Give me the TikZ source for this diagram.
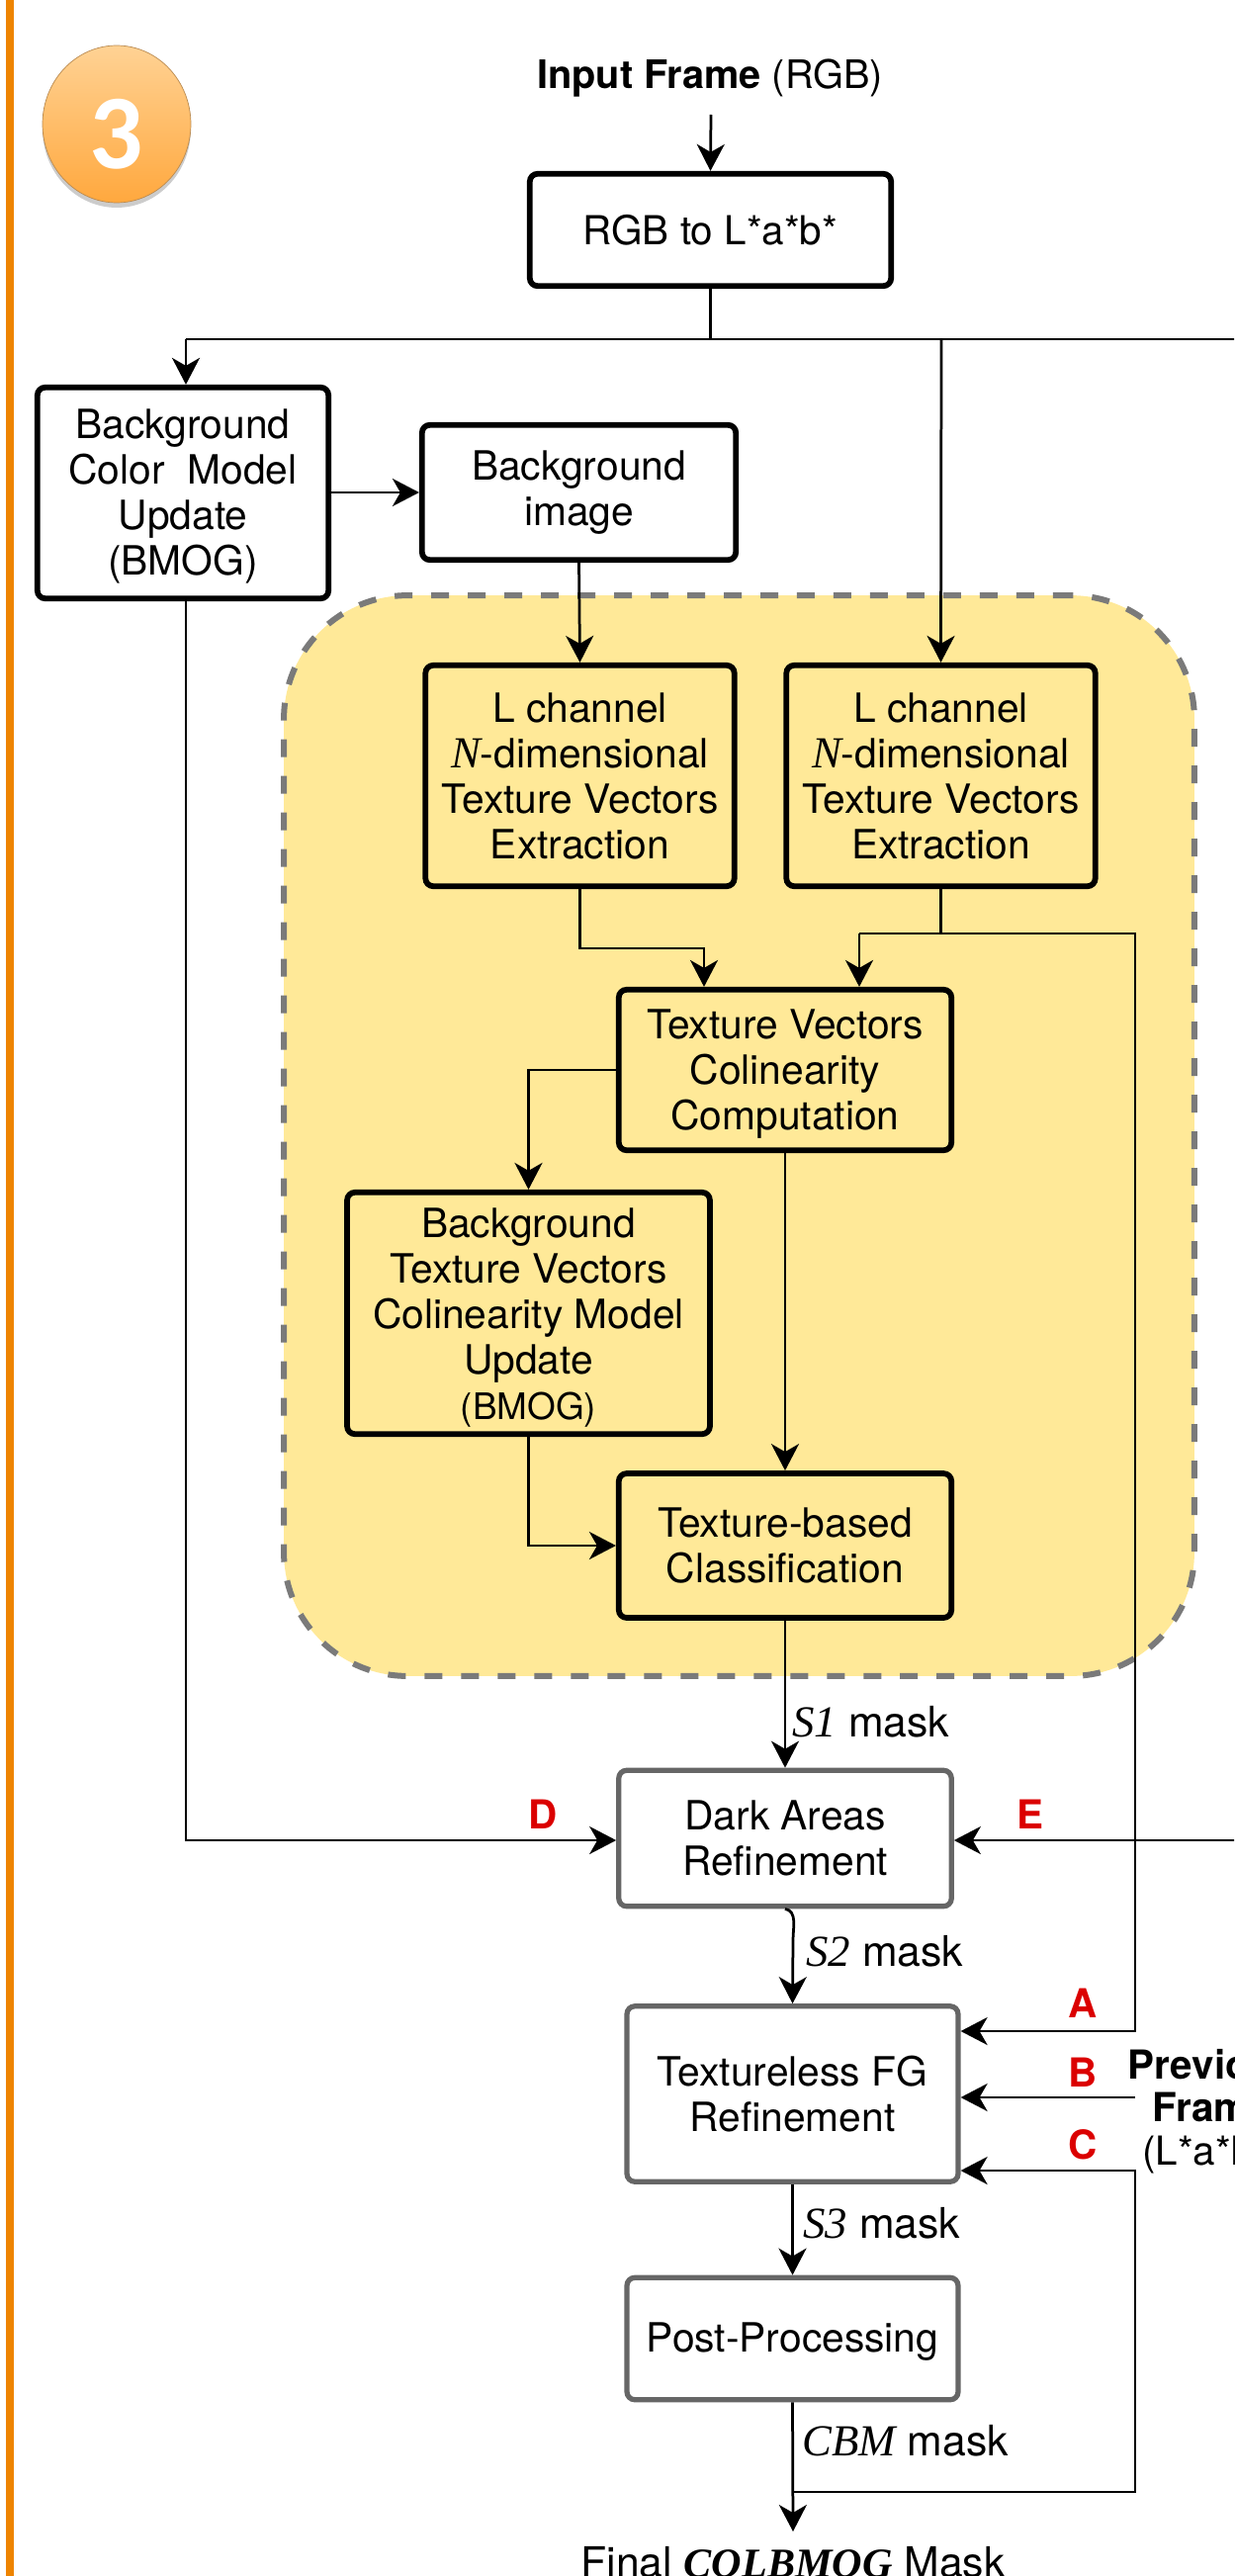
\documentclass[tikz,border=0pt]{standalone}
\usepackage{fontspec}
\setmainfont{TeX Gyre Heros}
\newfontfamily\timesfont{Liberation Serif}
\newfontfamily\badgefont{Carlito}
\usetikzlibrary{arrows.meta,shapes.geometric,shadows}
\definecolor{panelyellow}{HTML}{FFE998}
\definecolor{paneldash}{HTML}{7A7A7A}
\definecolor{boxgray}{HTML}{666666}
\definecolor{markred}{HTML}{DB0000}
\definecolor{barorange}{HTML}{EE8400}
\definecolor{badgetop}{HTML}{FFD294}
\definecolor{badgebot}{HTML}{FFA83E}
\definecolor{badgeedge}{HTML}{B98A50}
\newcommand{\itserif}[1]{{\timesfont\itshape\fontsize{25.5}{26}\selectfont #1}}
\newcommand{\firstline}[1]{\rule{0pt}{#1}}
\tikzset{
  procbox/.style={draw=black, fill=white, rectangle, rounded corners=0.16cm, line width=0.115cm,
    align=center, inner sep=0pt},
  yellowbox/.style={procbox, fill=panelyellow},
  graybox/.style={procbox, draw=boxgray, line width=0.105cm},
  conn/.style={draw=black, line width=0.055cm},
  arr/.style={conn, -{Stealth[length=0.54cm,width=0.56cm,inset=0.16cm]}},
  lbl/.style={inner sep=0pt, anchor=west, font=\fontsize{24.3}{26}\selectfont},
  marker/.style={inner sep=0pt, text=markred, font=\fontsize{23}{26}\selectfont\bfseries}
}
\begin{document}
\begin{tikzpicture}[x=0.02cm, y=-0.02cm, every node/.style={font=\fontsize{23.2}{26.2}\selectfont}]
  \useasboundingbox (0,0) rectangle (1248,2605);
  \clip (0,0) rectangle (1248,2605);
  \fill[barorange] (6,0) rectangle (14,2605);

  % badge
  \node[ellipse, minimum width=3.0cm, minimum height=3.18cm, inner sep=0pt, draw=badgeedge, thin,
    top color=badgetop, bottom color=badgebot,
    drop shadow={shadow xshift=0cm, shadow yshift=-0.1cm, opacity=0.4}] (badge) at (118,125.5) {};
  \node[inner sep=0pt, text=white, font=\badgefont\bfseries\fontsize{61}{61}\selectfont] (badgenum) at (118,136) {3};

  % shaded panel
  \node[rectangle, minimum width=18.42cm, minimum height=21.86cm, inner sep=0pt, rounded corners=2.5cm,
    fill=panelyellow, draw=paneldash, line width=0.12cm, dash pattern=on 0.36cm off 0.38cm] (panel) at (747.5,1148.5) {};

  \node[inner sep=0pt, font=\fontsize{22.6}{26}\selectfont] (input) at (718,79) {\textbf{Input Frame} (RGB)};
  \node[procbox, minimum width=7.31cm, minimum height=2.27cm, font=\fontsize{23}{26}\selectfont] (rgb) at (718.5,232.5) {RGB to L*a*b*};
  \node[procbox, minimum width=5.89cm, minimum height=4.27cm] (bgcolor) at (185,498.5)
    {\firstline{20.5pt}Background\hspace{0.2cm}\\Color\ \ Model\\Update\\(BMOG)};
  \node[procbox, minimum width=6.35cm, minimum height=2.73cm] (bgimage) at (585.5,498) {Background\hspace{0.13cm}\\image};
  \node[yellowbox, minimum width=6.25cm, minimum height=4.47cm] (lchana) at (586.5,784.5)
    {L channel\\{\itserif{N}}-dimensional\\Texture Vectors\\Extraction};
  \node[yellowbox, minimum width=6.25cm, minimum height=4.47cm] (lchanb) at (951.5,784.5)
    {L channel\\{\itserif{N}}-dimensional\\Texture Vectors\\Extraction};
  \node[yellowbox, minimum width=6.73cm, minimum height=3.25cm] (colin) at (794,1082)
    {\firstline{22pt}Texture Vectors\\Colinearity\\Computation};
  \node[yellowbox, minimum width=7.34cm, minimum height=4.89cm] (bgtex) at (534.5,1328)
    {\firstline{22pt}Background\\Texture Vectors\\Colinearity Model\\Update\\{\fontsize{21}{26.2}\selectfont (BMOG)}};
  \node[yellowbox, minimum width=6.73cm, minimum height=2.92cm] (texclass) at (794,1563)
    {Texture-based\\Classification};
  \node[graybox, minimum width=6.73cm, minimum height=2.75cm] (dark) at (794,1859) {Dark Areas\\Refinement};
  \node[graybox, minimum width=6.7cm, minimum height=3.55cm] (tless) at (801.5,2117.5) {Textureless FG\\Refinement};
  \node[graybox, minimum width=6.7cm, minimum height=2.47cm] (post) at (801.5,2365) {\firstline{20.5pt}Post-Processing};

  \node[inner sep=0pt, anchor=base, font=\fontsize{24.3}{26}\selectfont] (final) at (802,2606)
    {Final {\timesfont\bfseries\itshape\fontsize{24}{26}\selectfont COLBMOG} Mask};
  \node[inner sep=0pt, align=center, font=\fontsize{23}{24.6}\selectfont] (prev) at (1226,2135)
    {\textbf{Previous}\\\textbf{Frame}\\(L*a*b*)};

  \node[lbl] (sa) at (801,1741) {\itserif{S1} mask};
  \node[lbl] (sb) at (815,1973) {\itserif{S2} mask};
  \node[lbl] (sc) at (812,2248) {\itserif{S3} mask};
  \node[lbl] (cbm) at (811,2468) {\itserif{CBM} mask};

  \node[marker] (ma) at (1095,2026) {A};
  \node[marker] (mb) at (1095,2096) {B};
  \node[marker] (mc) at (1095,2169) {C};
  \node[marker] (md) at (549,1835) {D};
  \node[marker] (me) at (1042,1835) {E};

  \coordinate (instart) at (719,116);
  \coordinate (hubl) at (188,343);
  \coordinate (hubm) at (718.5,343);
  \coordinate (hubn) at (952,343);
  \coordinate (hubr) at (1260,343);
  \coordinate (ta) at (712,959);
  \coordinate (tb) at (869,944);
  \coordinate (tc) at (1148,944);
  \coordinate (cA) at (1148,2054);
  \coordinate (cB) at (1148,2121);
  \coordinate (cC) at (1148,2195);
  \coordinate (cD) at (188,1861);
  \coordinate (cE) at (1260,1861);
  \coordinate (fb) at (802,2520);
  \coordinate (jog) at (802,1962);
  \coordinate (endpt) at (802,2560);

  \draw[arr] (instart) -- (rgb.north);
  \draw[conn] (rgb.south) -- (hubm);
  \draw[conn] (hubl) -- (hubr);
  \draw[arr] (hubl) -- (hubl |- bgcolor.north);
  \draw[arr] (hubn) -- (lchanb.north);
  \draw[arr] (bgcolor.east |- bgimage.east) -- (bgimage.west);
  \draw[arr] (bgimage.south) -- (lchana.north);

  \draw[arr] (lchana.south) |- (ta) -- (ta |- colin.north);
  \draw[conn] (lchanb.south) -- (lchanb.south |- tc);
  \draw[arr] (tb) -- (tb |- colin.north);
  \draw[arr] (tb) -- (tc) -- (cA) -- (cA -| tless.east);
  \draw[arr] (cB) -- (cB -| tless.east);
  \draw[arr] (fb) -- (cC |- fb) -- (cC) -- (cC -| tless.east);

  \draw[arr] (colin.west) -| (bgtex.north);
  \draw[arr] (colin.south) -- (texclass.north);
  \draw[arr] (bgtex.south) |- (texclass.west);
  \draw[arr] (texclass.south) -- (dark.north);

  \draw[arr] (bgcolor.south -| cD) -- (cD) -- (dark.west |- cD);
  \draw[arr] (cE) -- (dark.east |- cE);
  \draw[conn] (dark.south) to[out=-10, in=90] (jog);
  \draw[arr] (jog) -- (tless.north);
  \draw[arr] (tless.south) -- (post.north);
  \draw[arr] (post.south) -- (endpt);
\end{tikzpicture}
\end{document}
